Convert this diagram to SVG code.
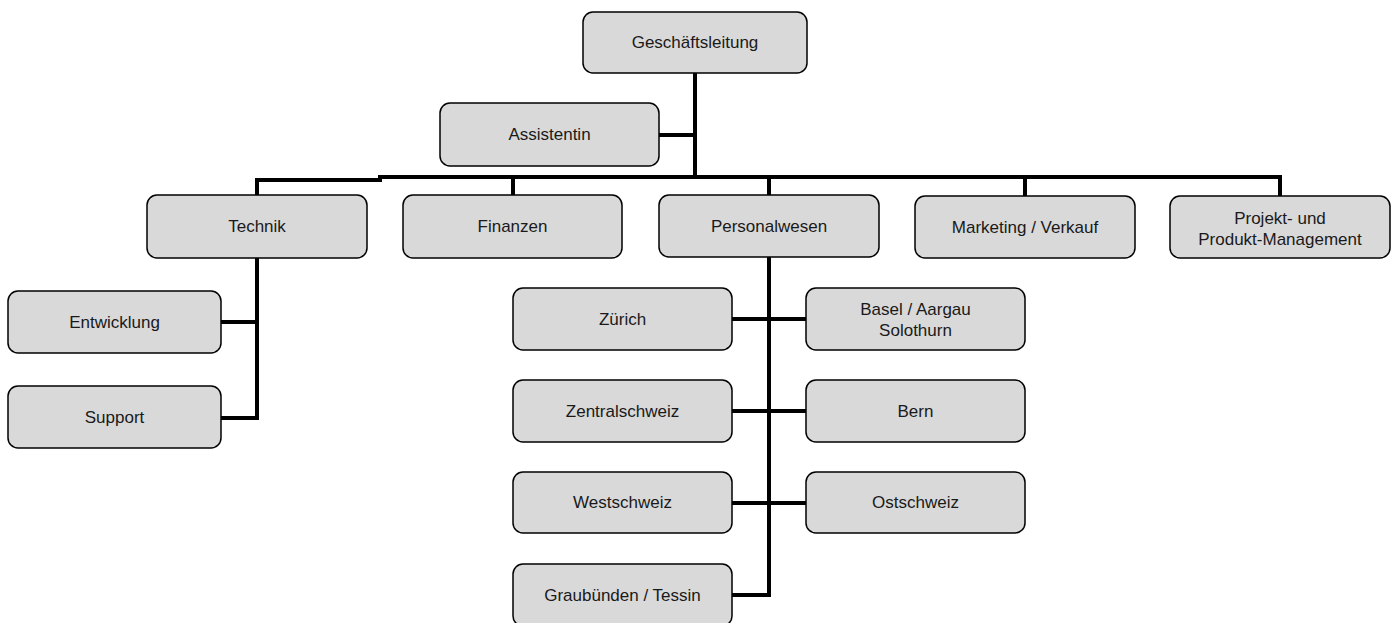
<svg xmlns="http://www.w3.org/2000/svg" width="1397" height="623" viewBox="0 0 1397 623">
<style>
.box{fill:#d9d9d9;stroke:#000;stroke-width:1.5}
.t{font-family:"Liberation Sans",Arial,sans-serif;font-size:17px;fill:#1a1a1a;text-anchor:middle}
.c{fill:none;stroke:#000;stroke-width:4;stroke-linejoin:miter}
</style>
<rect width="1397" height="623" fill="#fff"/>
<g id="connectors">
<path class="c" d="M695 73V177"/>
<path class="c" d="M659 135H695"/>
<path class="c" d="M257 195V180H380V177H1280V196"/>
<path class="c" d="M513 177V195"/>
<path class="c" d="M769 177V195"/>
<path class="c" d="M1025 177V196"/>
<path class="c" d="M257 258V418H221"/>
<path class="c" d="M221 322H257"/>
<path class="c" d="M769 257V595H732"/>
<path class="c" d="M732 319H806"/>
<path class="c" d="M732 411H806"/>
<path class="c" d="M732 503H806"/>
</g>
<g id="geschaeftsleitung"><rect class="box" x="583" y="12" width="224" height="61" rx="10"/><text class="t" x="695" y="48">Geschäftsleitung</text></g>
<g id="assistentin"><rect class="box" x="440" y="103" width="219" height="63" rx="10"/><text class="t" x="549.5" y="140">Assistentin</text></g>
<g id="technik"><rect class="box" x="147" y="195" width="220" height="63" rx="10"/><text class="t" x="257" y="232">Technik</text></g>
<g id="finanzen"><rect class="box" x="403" y="195" width="219" height="63" rx="10"/><text class="t" x="512.5" y="232">Finanzen</text></g>
<g id="personalwesen"><rect class="box" x="659" y="195" width="220" height="62" rx="10"/><text class="t" x="769" y="232">Personalwesen</text></g>
<g id="marketing"><rect class="box" x="915" y="196" width="220" height="62" rx="10"/><text class="t" x="1025" y="233">Marketing / Verkauf</text></g>
<g id="projekt"><rect class="box" x="1170" y="196" width="220" height="62" rx="10"/><text class="t" x="1280" y="224">Projekt- und</text><text class="t" x="1280" y="245">Produkt-Management</text></g>
<g id="entwicklung"><rect class="box" x="8" y="291" width="213" height="62" rx="10"/><text class="t" x="114.5" y="328">Entwicklung</text></g>
<g id="support"><rect class="box" x="8" y="386" width="213" height="62" rx="10"/><text class="t" x="114.5" y="423">Support</text></g>
<g id="zuerich"><rect class="box" x="513" y="288" width="219" height="62" rx="10"/><text class="t" x="622.5" y="325">Zürich</text></g>
<g id="basel"><rect class="box" x="806" y="288" width="219" height="62" rx="10"/><text class="t" x="915.5" y="315">Basel / Aargau</text><text class="t" x="915.5" y="336">Solothurn</text></g>
<g id="zentralschweiz"><rect class="box" x="513" y="380" width="219" height="62" rx="10"/><text class="t" x="622.5" y="417">Zentralschweiz</text></g>
<g id="bern"><rect class="box" x="806" y="380" width="219" height="62" rx="10"/><text class="t" x="915.5" y="417">Bern</text></g>
<g id="westschweiz"><rect class="box" x="513" y="472" width="219" height="61" rx="10"/><text class="t" x="622.5" y="508">Westschweiz</text></g>
<g id="ostschweiz"><rect class="box" x="806" y="472" width="219" height="61" rx="10"/><text class="t" x="915.5" y="508">Ostschweiz</text></g>
<g id="graubuenden"><rect class="box" x="513" y="564" width="219" height="62" rx="10"/><text class="t" x="622.5" y="601">Graubünden / Tessin</text></g>
</svg>
